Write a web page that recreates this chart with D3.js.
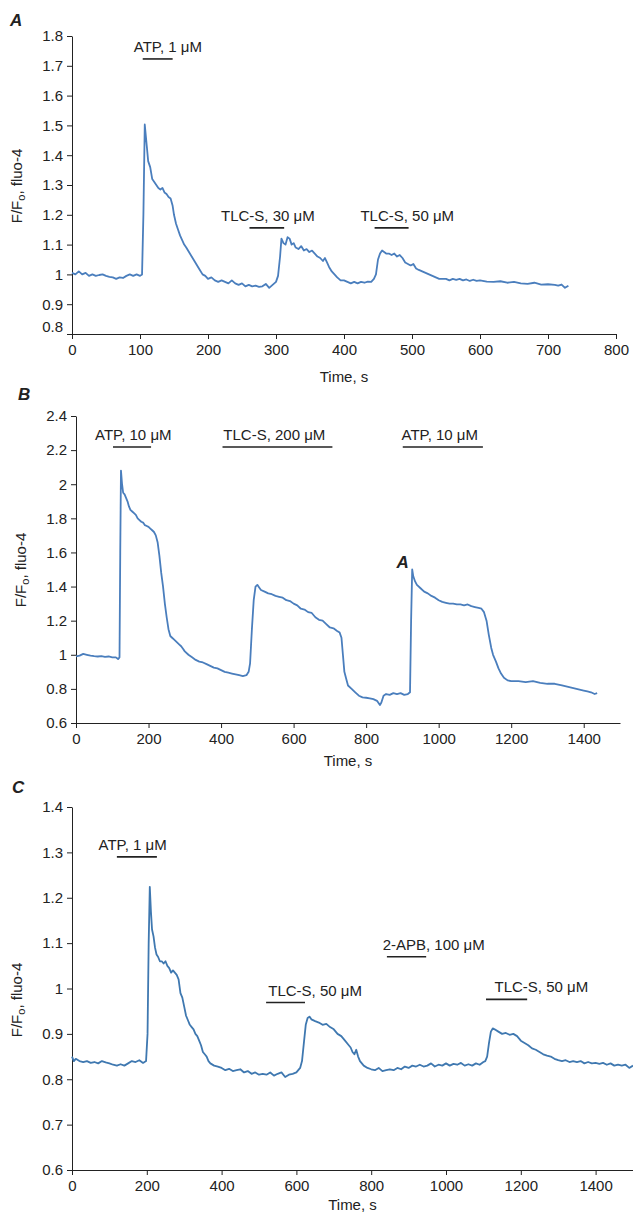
<!DOCTYPE html>
<html>
<head>
<meta charset="utf-8">
<script src="https://cdn.jsdelivr.net/npm/d3@7"></script>
<style>
  body { margin: 0; background: #fff; }
  svg { display: block; font-family: "Liberation Sans", Arial, sans-serif; }
  .axis path, .axis line { stroke: #222; }
  .axis text { fill: #222; font-size: 15px; font-family: "Liberation Sans", Arial, sans-serif; }
</style>
</head>
<body>
<svg id="chart" width="633" height="1215"></svg>
<script>
// panel A trace (time s, F/Fo)
let timeA = [0,5,10,15,20,25,30,35,40,45,50,55,60,65,70,75,80,85,90,95,100,103,105,107,110,112,115,118,121,124,127,130,133,136,139,142,145,148,150,153,156,159,162,165,168,172,176,180,184,188,192,196,200,205,210,215,220,225,230,235,240,245,250,255,260,265,270,275,280,285,290,295,300,303,306,308,311,314,317,320,323,326,329,333,337,341,345,349,353,357,361,365,369,372,375,378,382,386,390,395,400,405,410,415,420,425,430,435,440,444,447,450,453,456,459,462,466,470,474,478,482,486,490,494,498,502,506,510,515,520,525,530,535,540,545,550,555,560,565,570,575,580,585,590,595,600,610,620,630,640,650,660,670,680,690,700,710,715,720,725,730];
let fluoA = [1.005,1.0,1.01,1.0,1.005,0.995,1.0,0.995,0.998,1.0,0.995,0.992,0.99,0.985,0.99,0.988,0.995,1.0,0.995,1.0,0.995,1.0,1.2,1.503,1.43,1.38,1.36,1.32,1.31,1.3,1.29,1.285,1.29,1.275,1.27,1.26,1.255,1.23,1.2,1.17,1.15,1.13,1.115,1.1,1.09,1.075,1.06,1.045,1.03,1.015,1.0,0.995,0.985,0.99,0.98,0.975,0.98,0.975,0.97,0.98,0.97,0.965,0.97,0.96,0.965,0.96,0.962,0.958,0.96,0.968,0.955,0.965,0.975,0.995,1.06,1.12,1.105,1.1,1.125,1.12,1.1,1.105,1.09,1.085,1.095,1.08,1.085,1.075,1.08,1.07,1.06,1.055,1.045,1.055,1.04,1.025,1.01,1.0,0.99,0.98,0.98,0.975,0.97,0.975,0.97,0.975,0.972,0.976,0.975,0.985,1.0,1.05,1.07,1.08,1.075,1.07,1.07,1.065,1.07,1.06,1.065,1.055,1.04,1.035,1.03,1.035,1.02,1.015,1.01,1.005,1.0,0.995,0.99,0.985,0.985,0.985,0.98,0.985,0.982,0.985,0.98,0.983,0.978,0.982,0.978,0.98,0.976,0.975,0.977,0.972,0.975,0.97,0.968,0.972,0.966,0.967,0.965,0.962,0.966,0.955,0.962];

// panel B trace
let timeB = [0,10,20,30,40,50,60,70,80,90,100,110,116,120,122,124,127,130,134,138,142,146,150,155,160,165,170,175,180,185,190,195,200,205,210,215,220,225,230,235,240,245,250,255,260,265,270,275,280,285,290,295,300,310,320,330,340,350,360,370,380,390,400,410,420,430,440,450,460,470,476,480,485,490,495,500,505,510,520,530,540,550,560,570,580,590,600,610,620,630,640,650,660,670,680,690,700,710,720,727,732,736,740,745,750,760,770,780,790,800,810,820,830,838,842,848,855,865,875,885,895,905,915,921,924,927,930,935,940,950,960,970,980,990,1000,1010,1020,1030,1040,1050,1060,1070,1080,1090,1100,1110,1118,1125,1132,1138,1145,1150,1158,1165,1172,1180,1190,1200,1220,1240,1260,1280,1300,1320,1340,1360,1380,1400,1410,1420,1430,1437];
let fluoB = [0.99,0.995,1.005,1.0,0.995,0.992,0.99,0.992,0.988,0.99,0.985,0.985,0.975,0.985,1.6,2.08,2.0,1.95,1.94,1.92,1.9,1.87,1.85,1.84,1.83,1.82,1.8,1.79,1.78,1.775,1.76,1.755,1.75,1.74,1.73,1.72,1.7,1.66,1.58,1.48,1.4,1.3,1.22,1.15,1.11,1.1,1.09,1.08,1.07,1.06,1.05,1.035,1.02,1.0,0.985,0.97,0.96,0.955,0.945,0.935,0.925,0.92,0.91,0.9,0.895,0.89,0.885,0.88,0.875,0.88,0.9,0.95,1.15,1.32,1.4,1.41,1.395,1.38,1.37,1.36,1.355,1.345,1.34,1.335,1.32,1.315,1.3,1.29,1.27,1.265,1.25,1.245,1.22,1.205,1.2,1.18,1.16,1.155,1.14,1.13,1.1,1.0,0.9,0.86,0.82,0.8,0.78,0.76,0.75,0.748,0.745,0.74,0.73,0.705,0.72,0.76,0.77,0.765,0.775,0.77,0.775,0.765,0.77,0.78,1.2,1.5,1.46,1.43,1.41,1.39,1.37,1.36,1.345,1.335,1.32,1.31,1.305,1.3,1.3,1.295,1.295,1.29,1.295,1.285,1.28,1.275,1.27,1.25,1.2,1.12,1.04,1.0,0.96,0.92,0.89,0.865,0.85,0.845,0.845,0.84,0.845,0.835,0.83,0.83,0.82,0.81,0.8,0.79,0.785,0.78,0.77,0.775];

// panel C trace
let timeC = [0,5,10,20,30,40,50,60,70,80,90,100,110,120,130,140,150,160,170,180,190,198,202,205,208,211,214,218,222,226,230,235,240,245,250,255,260,265,270,275,280,285,290,295,300,305,310,315,320,325,330,335,340,345,350,355,360,365,370,380,390,400,410,420,430,440,450,460,470,480,490,500,510,520,530,540,550,560,570,580,590,600,610,615,620,625,630,635,640,650,660,670,680,690,700,710,720,730,740,745,750,755,760,765,770,780,790,800,810,820,830,840,850,860,870,880,890,900,910,920,930,940,950,960,970,980,990,1000,1010,1020,1030,1040,1050,1060,1070,1080,1090,1100,1105,1110,1115,1120,1125,1130,1140,1150,1160,1170,1180,1190,1200,1210,1220,1230,1240,1250,1260,1270,1280,1290,1300,1310,1320,1330,1340,1350,1360,1370,1380,1390,1400,1410,1420,1430,1440,1450,1460,1470,1480,1490,1500];
let fluoC = [0.85,0.84,0.845,0.84,0.838,0.84,0.836,0.838,0.835,0.84,0.837,0.835,0.832,0.83,0.833,0.83,0.835,0.84,0.838,0.842,0.836,0.84,0.9,1.1,1.224,1.17,1.13,1.115,1.09,1.075,1.07,1.06,1.06,1.055,1.06,1.05,1.045,1.035,1.04,1.035,1.03,1.02,0.99,0.98,0.96,0.94,0.93,0.92,0.915,0.91,0.9,0.895,0.885,0.875,0.86,0.855,0.85,0.84,0.835,0.83,0.828,0.825,0.82,0.823,0.818,0.82,0.822,0.815,0.818,0.812,0.815,0.81,0.812,0.81,0.815,0.808,0.812,0.815,0.805,0.81,0.812,0.815,0.825,0.84,0.88,0.92,0.935,0.938,0.932,0.928,0.925,0.92,0.922,0.915,0.91,0.9,0.895,0.885,0.875,0.87,0.86,0.855,0.865,0.85,0.84,0.83,0.825,0.822,0.82,0.825,0.818,0.82,0.822,0.82,0.825,0.822,0.828,0.825,0.83,0.828,0.832,0.828,0.83,0.835,0.828,0.832,0.83,0.835,0.83,0.834,0.832,0.836,0.83,0.833,0.83,0.835,0.832,0.838,0.84,0.85,0.88,0.905,0.912,0.91,0.905,0.9,0.902,0.898,0.9,0.895,0.885,0.88,0.875,0.868,0.865,0.86,0.855,0.852,0.85,0.845,0.842,0.84,0.842,0.838,0.84,0.838,0.84,0.835,0.838,0.835,0.836,0.834,0.836,0.832,0.835,0.83,0.832,0.83,0.832,0.825,0.83];

// tick values
let yTicksA = [0.8,0.9,1,1.1,1.2,1.3,1.4,1.5,1.6,1.7,1.8];
let xTicksA = [0,100,200,300,400,500,600,700,800];
let yTicksB = [0.6,0.8,1,1.2,1.4,1.6,1.8,2,2.2,2.4];
let xTicksB = [0,200,400,600,800,1000,1200,1400];
let yTicksC = [0.6,0.7,0.8,0.9,1,1.1,1.2,1.3,1.4];
let xTicksC = [0,200,400,600,800,1000,1200,1400];

// application bars: label, start, end (s), level (F/Fo), label centre (s)
let drugsA = [
    ["ATP, 1 \u03bcM", 104, 148, 1.723, 141],
    ["TLC-S, 30 \u03bcM", 261, 312, 1.156, 288],
    ["TLC-S, 50 \u03bcM", 445, 495, 1.156, 493]
];
let drugsB = [
    ["ATP, 10 \u03bcM", 102, 207, 2.218, 158],
    ["TLC-S, 200 \u03bcM", 404, 707, 2.218, 547],
    ["ATP, 10 \u03bcM", 901, 1122, 2.218, 1003]
];
let drugsC = [
    ["ATP, 1 \u03bcM", 120, 227, 1.29, 162],
    ["TLC-S, 50 \u03bcM", 519, 623, 0.969, 650],
    ["2-APB, 100 \u03bcM", 842, 947, 1.07, 967],
    ["TLC-S, 50 \u03bcM", 1107, 1217, 0.976, 1255]
];

let svg = d3.select("#chart");
svg.append("rect").attr("width", 633).attr("height", 1215).attr("fill", "#fff");

function draw_panel(p) {
    let g = svg.append("g");

    let x = d3.scaleLinear().domain(p.xDomain).range([p.left, p.right]);
    let y = d3.scaleLinear().domain(p.yDomain).range([p.bottom, p.top]);

    // x axis
    g.append("g")
        .attr("class", "axis")
        .attr("transform", "translate(0," + p.bottom + ")")
        .call(d3.axisBottom(x).tickValues(p.xTicks).tickSize(5).tickSizeOuter(0).tickPadding(5).tickFormat(d3.format("")));

    // y axis
    let gy = g.append("g")
        .attr("class", "axis")
        .attr("transform", "translate(" + p.left + ",0)")
        .call(d3.axisLeft(y).tickValues(p.yTicks).tickSize(5).tickSizeOuter(0).tickPadding(4).tickFormat(d3.format("")));

    if (p.lowLabelShift) {
        // lowest label sits a bit above the corner
        gy.selectAll(".tick").filter(function (d) { return d === p.yDomain[0]; })
            .select("text").attr("dy", p.lowLabelShift);
    }

    g.append("text")
        .attr("x", (p.left + p.right) / 2)
        .attr("y", p.bottom + p.titleGap)
        .attr("text-anchor", "middle")
        .attr("font-size", "15px")
        .attr("fill", "#222")
        .text("Time, s");

    let yl = g.append("text")
        .attr("transform", "translate(" + p.yLabelX + "," + p.yLabelY + ") rotate(-90)")
        .attr("text-anchor", "middle")
        .attr("font-size", "15px")
        .attr("fill", "#222");
    yl.append("tspan").text("F/F");
    yl.append("tspan").attr("font-size", "11px").attr("dy", 3).text("o");
    yl.append("tspan").attr("dy", -3).text(", fluo-4");

    // panel letter
    g.append("text")
        .attr("x", p.letterX)
        .attr("y", p.letterY)
        .attr("font-size", "17px")
        .attr("font-weight", "bold")
        .attr("font-style", "italic")
        .attr("fill", "#222")
        .text(p.letter);

    // drug application bars
    g.selectAll(".drugbar")
        .data(p.drugs)
        .enter().append("line")
        .attr("x1", function (d) { return x(d[1]); })
        .attr("x2", function (d) { return x(d[2]); })
        .attr("y1", function (d) { return y(d[3]); })
        .attr("y2", function (d) { return y(d[3]); })
        .attr("stroke", "#222")
        .attr("stroke-width", 1.6);

    g.selectAll(".druglabel")
        .data(p.drugs)
        .enter().append("text")
        .attr("x", function (d) { return x(d[4]); })
        .attr("y", function (d) { return y(d[3]) - 7; })
        .attr("text-anchor", "middle")
        .attr("font-size", "15px")
        .attr("fill", "#222")
        .text(function (d) { return d[0]; });

    let pts = p.time.map(function (t, i) { return [t, p.fluo[i]]; });
    g.append("path")
        .datum(pts)
        .attr("fill", "none")
        .attr("stroke", p.color)
        .attr("stroke-width", 1.8)
        .attr("stroke-linejoin", "round")
        .attr("d", d3.line().x(function (d) { return x(d[0]); }).y(function (d) { return y(d[1]); }));

    return { x: x, y: y, g: g };
}

draw_panel({
    letter: "A", letterX: 10, letterY: 26,
    xDomain: [0, 800], yDomain: [0.8, 1.8],
    left: 72, right: 616, top: 36, bottom: 334,
    xTicks: xTicksA, yTicks: yTicksA, lowLabelShift: "-0.2em",
    yLabelX: 22, yLabelY: 186, titleGap: 48,
    time: timeA, fluo: fluoA, drugs: drugsA, color: "#4a7ebd"
});

let pb = draw_panel({
    letter: "B", letterX: 18, letterY: 400,
    xDomain: [0, 1500], yDomain: [0.6, 2.4],
    left: 76, right: 620, top: 416, bottom: 723,
    xTicks: xTicksB, yTicks: yTicksB,
    yLabelX: 26, yLabelY: 570, titleGap: 43,
    time: timeB, fluo: fluoB, drugs: drugsB, color: "#4a7ebd"
});

// "A" mark on the second ATP response
pb.g.append("text")
    .attr("x", pb.x(901))
    .attr("y", pb.y(1.5) - 2)
    .attr("text-anchor", "middle")
    .attr("font-size", "17px")
    .attr("font-weight", "bold")
    .attr("font-style", "italic")
    .attr("fill", "#222")
    .text("A");

draw_panel({
    letter: "C", letterX: 12, letterY: 793,
    xDomain: [0, 1500], yDomain: [0.6, 1.4],
    left: 72, right: 633, top: 807, bottom: 1170,
    xTicks: xTicksC, yTicks: yTicksC,
    yLabelX: 22, yLabelY: 1000, titleGap: 40,
    time: timeC, fluo: fluoC, drugs: drugsC, color: "#3f78b0"
});
</script>
</body>
</html>
